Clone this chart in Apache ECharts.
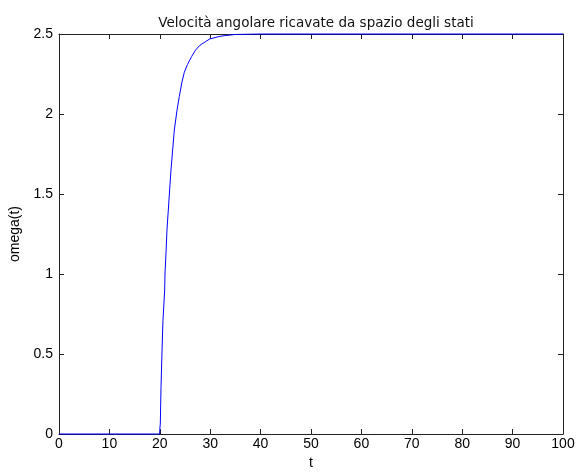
<!DOCTYPE html>
<html>
<head>
<meta charset="utf-8">
<script src="https://cdn.jsdelivr.net/npm/echarts@6/dist/echarts.min.js"></script>
<style>
  html, body { margin: 0; padding: 0; background: #fff; }
  #chart { width: 585px; height: 472px; }
</style>
</head>
<body>
<div id="chart"></div>
<script>
// Angular velocity from the state-space model: step applied at t = 20
const timeValues = [0, 10, 19.98, 20, 20.1, 20.24, 20.44, 20.63, 20.97, 21.03, 21.23, 21.43, 21.69, 21.96, 22.22, 22.88, 23.4, 23.87, 24.4, 24.86, 25.5, 26.33, 27.1, 27.98, 29.96, 31.9, 32.9, 35, 40, 50, 60, 70, 80, 90, 100];
const omegaValues = [0, 0, 0, 0.03, 0.063, 0.29, 0.52, 0.71, 0.90, 1.00, 1.13, 1.28, 1.40, 1.53, 1.65, 1.90, 2.02, 2.11, 2.20, 2.26, 2.31, 2.36, 2.40, 2.43, 2.47, 2.485, 2.49, 2.497, 2.5, 2.5, 2.5, 2.5, 2.5, 2.5, 2.5];

const xTicks = [0, 10, 20, 30, 40, 50, 60, 70, 80, 90, 100];
const yTicks = [0, 0.5, 1, 1.5, 2, 2.5];

const titleText = 'Velocità angolare ricavate da spazio degli stati';
const xName = 't';
const yName = 'omega(t)';

const points = timeValues.map((t, i) => [t, omegaValues[i]]);

const font = 'Liberation Sans, Arial, sans-serif';
const titleFont = 'DejaVu Sans, sans-serif';
const axisColor = '#222';

const chart = echarts.init(document.getElementById('chart'), null, { renderer: 'canvas' });

const baseX = {
  type: 'value', min: 0, max: 100, interval: 10,
  axisLine: { show: true, onZero: false, lineStyle: { color: axisColor, width: 1 } },
  axisTick: { show: true, inside: true, length: 5, lineStyle: { color: axisColor } },
  splitLine: { show: false }
};
const baseY = {
  type: 'value', min: 0, max: 2.5, interval: 0.5,
  axisLine: { show: true, onZero: false, lineStyle: { color: axisColor, width: 1 } },
  axisTick: { show: true, inside: true, length: 5, lineStyle: { color: axisColor } },
  splitLine: { show: false }
};

chart.setOption({
  animation: false,
  backgroundColor: '#ffffff',
  title: {
    text: titleText,
    left: 311, top: 11, textAlign: 'center',
    textStyle: { fontFamily: titleFont, fontSize: 13.5, fontWeight: 'normal', color: '#111' }
  },
  grid: { left: 59, right: 22, top: 34, bottom: 38, outerBoundsMode: 'none', containLabel: false },
  xAxis: [
    Object.assign({}, baseX, {
      position: 'bottom',
      name: xName, nameLocation: 'middle', nameGap: 22,
      nameTextStyle: { fontFamily: font, fontSize: 14, color: '#000' },
      axisLabel: {
        show: true, margin: 3, fontFamily: font, fontSize: 14, color: '#000',
        formatter: v => (xTicks.includes(v) ? String(v) : '')
      }
    }),
    Object.assign({}, baseX, { position: 'top', axisLabel: { show: false } })
  ],
  yAxis: [
    Object.assign({}, baseY, {
      position: 'left',
      name: yName, nameLocation: 'middle', nameGap: 34, nameRotate: 90,
      nameTextStyle: { fontFamily: font, fontSize: 14, color: '#000' },
      axisLabel: {
        show: true, margin: 6, fontFamily: font, fontSize: 14, color: '#000',
        formatter: v => (yTicks.includes(v) ? String(v) : '')
      }
    }),
    Object.assign({}, baseY, { position: 'right', axisLabel: { show: false } })
  ],
  series: [{
    type: 'line',
    xAxisIndex: 0, yAxisIndex: 0,
    data: points,
    showSymbol: false,
    smooth: false,
    clip: false,
    lineStyle: { color: '#0000ff', width: 1 },
    z: 10
  }]
});
</script>
</body>
</html>
